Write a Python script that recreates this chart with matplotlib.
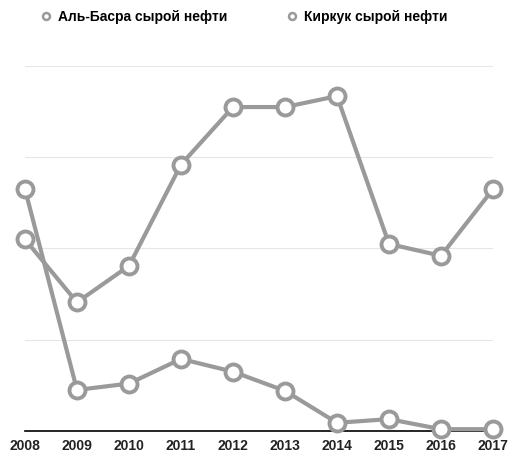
import matplotlib.pyplot as plt
from matplotlib.lines import Line2D

years = [2008, 2009, 2010, 2011, 2012, 2013, 2014, 2015, 2016, 2017]
basra = [2.10, 1.41, 1.81, 2.92, 3.55, 3.55, 3.67, 2.05, 1.92, 2.65]
kirkuk = [2.65, 0.45, 0.52, 0.79, 0.65, 0.44, 0.09, 0.13, 0.02, 0.02]
labels = ['Аль-Басра сырой нефти', 'Киркук сырой нефти']

grey = '#9a9a9a'
plt.rcParams['font.family'] = ['Liberation Sans', 'DejaVu Sans']

fig = plt.figure(figsize=(5.09, 4.55), dpi=100)
ax = fig.add_axes([25 / 509, (455 - 431) / 455, (493 - 25) / 509, (431 - 66) / 455])

for v in [1, 2, 3, 4]:
    ax.axhline(v, color='#e6e6e6', lw=0.8, zorder=0)
ax.plot([2008, 2016.8], [0, 0], color='black', lw=1.2, zorder=1, clip_on=False)

for series in [basra, kirkuk]:
    ax.plot(years, series, color=grey, lw=3, marker='o', markersize=11.5,
            markerfacecolor='white', markeredgecolor=grey, markeredgewidth=2.8,
            clip_on=False, zorder=3)

ax.set_xlim(2008, 2017)
ax.set_ylim(0, 4)
ax.set_xticks(years)
ax.set_xticklabels([str(y) for y in years], fontsize=10, fontweight='bold', color='#222222')
ax.tick_params(axis='x', length=0, pad=6)
ax.set_yticks([])
for s in ax.spines.values():
    s.set_visible(False)

handles = [Line2D([], [], ls='none', marker='o', markersize=5, markerfacecolor='white',
                  markeredgecolor=grey, markeredgewidth=1.8) for _ in labels]
fig.legend(handles, labels, loc='center left', bbox_to_anchor=(25 / 509, 1 - 17 / 455),
           ncol=2, frameon=False, handletextpad=0.3, columnspacing=4.0,
           handlelength=1.2, prop={'weight': 'bold', 'size': 10})

plt.savefig('out.png', dpi=100)
